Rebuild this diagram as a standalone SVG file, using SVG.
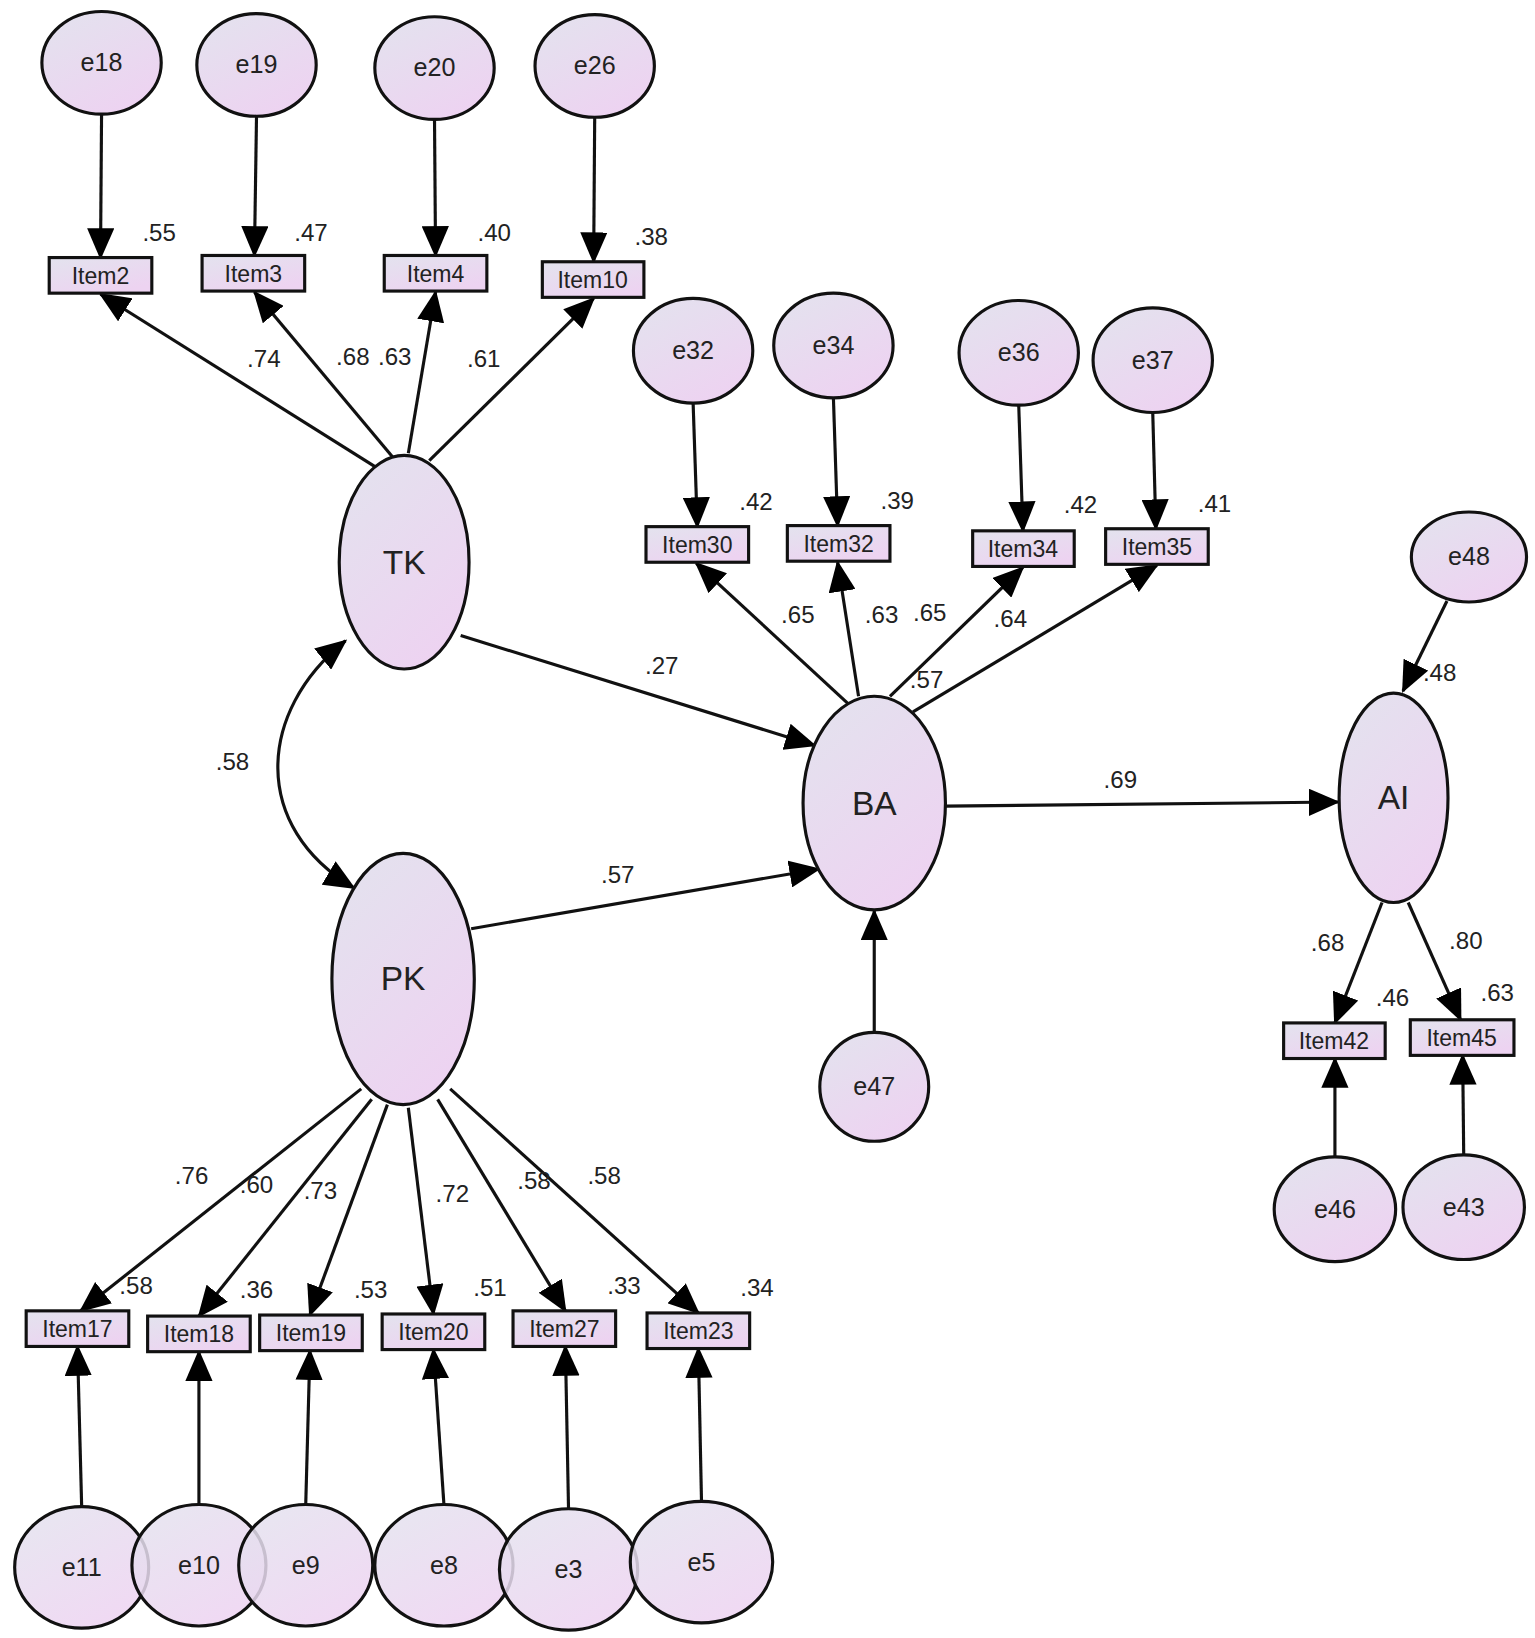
<svg xmlns="http://www.w3.org/2000/svg" width="1535" height="1638" viewBox="0 0 1535 1638">
<defs>
<linearGradient id="g" x1="0" y1="0" x2="0.6" y2="1"><stop offset="0" stop-color="#e3e3ee"/><stop offset="1" stop-color="#edd3f1"/></linearGradient>
<marker id="a" markerUnits="userSpaceOnUse" markerWidth="30" markerHeight="26" refX="28" refY="13" orient="auto"><path d="M0,0 L30,13 L0,26 z" fill="#000"/></marker>
<marker id="s" markerUnits="userSpaceOnUse" markerWidth="30" markerHeight="26" refX="2" refY="13" orient="auto"><path d="M30,0 L0,13 L30,26 z" fill="#000"/></marker>
</defs>
<style>
ellipse,rect{fill:url(#g);stroke:#111;stroke-width:3}
.c line,.c path{stroke:#111;stroke-width:3;fill:none;marker-end:url(#a)}
text{font-family:"Liberation Sans",Arial,sans-serif;text-anchor:middle;fill:#222}
.e{font-size:24px}.i{font-size:22px}.l{font-size:23px}.b{font-size:32px}
</style>
<rect x="0" y="0" width="1535" height="1638" style="fill:#fff;stroke:none"/>
<g transform="scale(1.047)">
<g class="c">
<line x1="97" y1="109" x2="96" y2="246"/><line x1="245" y1="111" x2="243" y2="244"/><line x1="415" y1="114" x2="416" y2="244"/><line x1="568" y1="112" x2="567" y2="250"/>
<line x1="365" y1="450" x2="96" y2="281"/><line x1="378" y1="440" x2="243" y2="279"/><line x1="390" y1="433" x2="416" y2="279"/><line x1="410" y1="440" x2="567" y2="285"/>
<line x1="662" y1="385" x2="666" y2="503"/><line x1="796" y1="380" x2="800" y2="502"/><line x1="973" y1="387" x2="977" y2="507"/><line x1="1101" y1="394" x2="1104" y2="505"/>
<line x1="810" y1="672" x2="665" y2="538"/><line x1="820" y1="665" x2="800" y2="537"/><line x1="850" y1="665" x2="977" y2="542"/><line x1="872" y1="680" x2="1105" y2="540"/>
<line x1="440" y1="607" x2="778" y2="712"/><line x1="450" y1="887" x2="782" y2="830"/><line x1="903" y1="770" x2="1278" y2="766"/>
<line x1="1382" y1="574" x2="1340" y2="660"/><line x1="835" y1="986" x2="835" y2="870"/>
<line x1="1320" y1="862" x2="1275" y2="977"/><line x1="1345" y1="862" x2="1395" y2="974"/>
<line x1="1275" y1="1105" x2="1275" y2="1011"/><line x1="1398" y1="1103" x2="1397" y2="1008"/>
<path d="M330,612 C245,680 240,790 338,848" style="marker-start:url(#s)"/>
<line x1="345" y1="1040" x2="77" y2="1252"/><line x1="355" y1="1050" x2="190" y2="1257"/><line x1="370" y1="1055" x2="296" y2="1256"/><line x1="390" y1="1058" x2="414" y2="1255"/><line x1="418" y1="1050" x2="540" y2="1252"/><line x1="430" y1="1040" x2="667" y2="1254"/>
<line x1="78" y1="1439" x2="74" y2="1286"/><line x1="190" y1="1437" x2="190" y2="1291"/><line x1="292" y1="1437" x2="296" y2="1290"/><line x1="424" y1="1437" x2="414" y2="1289"/><line x1="543" y1="1441" x2="540" y2="1286"/><line x1="670" y1="1434" x2="667" y2="1288"/>
</g>
<g id="e18"><ellipse cx="97" cy="60" rx="57" ry="49"/><text class="e" x="97" y="68">e18</text></g>
<g id="e19"><ellipse cx="245" cy="62" rx="57" ry="49"/><text class="e" x="245" y="70">e19</text></g>
<g id="e20"><ellipse cx="415" cy="65" rx="57" ry="49"/><text class="e" x="415" y="73">e20</text></g>
<g id="e26"><ellipse cx="568" cy="63" rx="57" ry="49"/><text class="e" x="568" y="71">e26</text></g>
<g id="Item2"><rect x="47" y="246" width="98" height="34"/><text class="i" x="96" y="271">Item2</text></g>
<g id="Item3"><rect x="193" y="244" width="98" height="34"/><text class="i" x="242" y="269">Item3</text></g>
<g id="Item4"><rect x="367" y="244" width="98" height="34"/><text class="i" x="416" y="269">Item4</text></g>
<g id="Item10"><rect x="518" y="250" width="97" height="34"/><text class="i" x="566" y="275">Item10</text></g>
<g id="TK"><ellipse cx="386" cy="537" rx="62" ry="102"/><text class="b" x="386" y="548">TK</text></g>
<g id="e32"><ellipse cx="662" cy="335" rx="57" ry="50"/><text class="e" x="662" y="343">e32</text></g>
<g id="e34"><ellipse cx="796" cy="330" rx="57" ry="50"/><text class="e" x="796" y="338">e34</text></g>
<g id="e36"><ellipse cx="973" cy="337" rx="57" ry="50"/><text class="e" x="973" y="345">e36</text></g>
<g id="e37"><ellipse cx="1101" cy="344" rx="57" ry="50"/><text class="e" x="1101" y="352">e37</text></g>
<g id="Item30"><rect x="617" y="503" width="98" height="34"/><text class="i" x="666" y="528">Item30</text></g>
<g id="Item32"><rect x="752" y="502" width="98" height="34"/><text class="i" x="801" y="527">Item32</text></g>
<g id="Item34"><rect x="929" y="507" width="97" height="34"/><text class="i" x="977" y="532">Item34</text></g>
<g id="Item35"><rect x="1056" y="505" width="98" height="34"/><text class="i" x="1105" y="530">Item35</text></g>
<g id="BA"><ellipse cx="835" cy="767" rx="68" ry="102"/><text class="b" x="835" y="778">BA</text></g>
<g id="e48"><ellipse cx="1403" cy="532" rx="55" ry="43"/><text class="e" x="1403" y="540">e48</text></g>
<g id="AI"><ellipse cx="1331" cy="762" rx="52" ry="100"/><text class="b" x="1331" y="773">AI</text></g>
<g id="e47"><ellipse cx="835" cy="1038" rx="52" ry="52"/><text class="e" x="835" y="1046">e47</text></g>
<g id="Item42"><rect x="1226" y="977" width="97" height="34"/><text class="i" x="1274" y="1002">Item42</text></g>
<g id="Item45"><rect x="1347" y="974" width="99" height="34"/><text class="i" x="1396" y="999">Item45</text></g>
<g id="e46"><ellipse cx="1275" cy="1155" rx="58" ry="50"/><text class="e" x="1275" y="1163">e46</text></g>
<g id="e43"><ellipse cx="1398" cy="1153" rx="58" ry="50"/><text class="e" x="1398" y="1161">e43</text></g>
<g id="PK"><ellipse cx="385" cy="935" rx="68" ry="120"/><text class="b" x="385" y="946">PK</text></g>
<g id="Item17"><rect x="25" y="1252" width="98" height="34"/><text class="i" x="74" y="1277">Item17</text></g>
<g id="Item18"><rect x="141" y="1257" width="98" height="34"/><text class="i" x="190" y="1282">Item18</text></g>
<g id="Item19"><rect x="248" y="1256" width="98" height="34"/><text class="i" x="297" y="1281">Item19</text></g>
<g id="Item20"><rect x="365" y="1255" width="98" height="34"/><text class="i" x="414" y="1280">Item20</text></g>
<g id="Item27"><rect x="490" y="1252" width="98" height="34"/><text class="i" x="539" y="1277">Item27</text></g>
<g id="Item23"><rect x="618" y="1254" width="98" height="34"/><text class="i" x="667" y="1279">Item23</text></g>
<g id="e11"><ellipse cx="78" cy="1497" rx="64" ry="58" style="fill-opacity:0.85"/><text class="e" x="78" y="1505">e11</text></g>
<g id="e10"><ellipse cx="190" cy="1495" rx="64" ry="58" style="fill-opacity:0.85"/><text class="e" x="190" y="1503">e10</text></g>
<g id="e9"><ellipse cx="292" cy="1495" rx="64" ry="58" style="fill-opacity:0.85"/><text class="e" x="292" y="1503">e9</text></g>
<g id="e8"><ellipse cx="424" cy="1495" rx="66" ry="58" style="fill-opacity:0.85"/><text class="e" x="424" y="1503">e8</text></g>
<g id="e3"><ellipse cx="543" cy="1499" rx="66" ry="58" style="fill-opacity:0.85"/><text class="e" x="543" y="1507">e3</text></g>
<g id="e5"><ellipse cx="670" cy="1492" rx="68" ry="58" style="fill-opacity:0.85"/><text class="e" x="670" y="1500">e5</text></g>
<g id="labels">
<text class="l" x="152" y="230">.55</text><text class="l" x="297" y="230">.47</text><text class="l" x="472" y="230">.40</text><text class="l" x="622" y="234">.38</text>
<text class="l" x="252" y="351">.74</text><text class="l" x="337" y="349">.68</text><text class="l" x="377" y="349">.63</text><text class="l" x="462" y="351">.61</text>
<text class="l" x="722" y="487">.42</text><text class="l" x="857" y="486">.39</text><text class="l" x="1032" y="490">.42</text><text class="l" x="1160" y="489">.41</text>
<text class="l" x="762" y="595">.65</text><text class="l" x="842" y="595">.63</text><text class="l" x="888" y="593">.65</text><text class="l" x="965" y="599">.64</text><text class="l" x="885" y="657">.57</text>
<text class="l" x="1375" y="650">.48</text><text class="l" x="632" y="644">.27</text><text class="l" x="1070" y="753">.69</text><text class="l" x="590" y="843">.57</text><text class="l" x="222" y="735">.58</text>
<text class="l" x="1268" y="908">.68</text><text class="l" x="1400" y="906">.80</text><text class="l" x="1330" y="961">.46</text><text class="l" x="1430" y="956">.63</text>
<text class="l" x="183" y="1131">.76</text><text class="l" x="245" y="1139">.60</text><text class="l" x="306" y="1145">.73</text><text class="l" x="432" y="1148">.72</text><text class="l" x="510" y="1136">.58</text><text class="l" x="577" y="1131">.58</text>
<text class="l" x="130" y="1236">.58</text><text class="l" x="245" y="1240">.36</text><text class="l" x="354" y="1240">.53</text><text class="l" x="468" y="1238">.51</text><text class="l" x="596" y="1236">.33</text><text class="l" x="723" y="1238">.34</text>
</g>
</g>
</svg>
